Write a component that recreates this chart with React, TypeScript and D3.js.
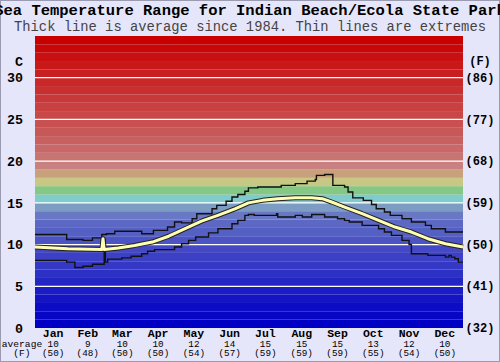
import React from "react";
import * as d3 from "d3";

const months = ["Jan", "Feb", "Mar", "Apr", "May", "Jun", "Jul", "Aug", "Sep", "Oct", "Nov", "Dec"];
const monthDays = [31, 28, 31, 30, 31, 30, 31, 31, 30, 31, 30, 31];
const monthAvgC = [10, 9, 10, 10, 12, 14, 15, 15, 15, 13, 12, 10];
const monthAvgF = [50, 48, 50, 50, 54, 57, 59, 59, 59, 55, 54, 50];

const cTicks = [0, 5, 10, 15, 20, 25, 30];
const fTicks = ["(32)", "(41)", "(50)", "(59)", "(68)", "(77)", "(86)"];

// [day of year, deg C]
const maxLine: [number, number][] = [
  [0, 11.2], [27, 10.6], [41, 10.5], [49, 10.8], [57, 11.2], [61, 11.3], [68, 11.6],
  [91, 11.3], [101, 11.7], [113, 12.1], [119, 12.7], [125, 12.6], [134, 13.1], [138, 13.7],
  [151, 14.3], [155, 14.7], [163, 15.2], [168, 15.7], [173, 16.0], [179, 16.4], [182, 16.8],
  [190, 16.9], [210, 17.1], [222, 17.3], [232, 17.6], [239, 17.8], [240, 18.3], [247, 18.4],
  [254, 17.1], [264, 16.9], [267, 16.3], [271, 15.6], [280, 15.3], [287, 14.8], [291, 14.3],
  [298, 13.9], [303, 13.5], [313, 13.1], [321, 12.7], [333, 12.3], [338, 11.9], [350, 11.5],
  [365, 11.5],
];

const minLine: [number, number][] = [
  [0, 8.1], [27, 7.9], [34, 7.25], [41, 7.4], [49, 7.65], [59, 10.6], [60, 7.9], [62, 8.25],
  [74, 8.4], [82, 8.6], [91, 8.9], [96, 9.2], [102, 9.4], [119, 9.7], [125, 10.1], [131, 10.5],
  [137, 10.9], [148, 11.4], [156, 11.9], [168, 12.5], [173, 12.9], [179, 13.5], [182, 13.6],
  [187, 13.5], [206, 13.7], [207, 13.3], [222, 13.5], [228, 13.3], [236, 13.6], [247, 13.3],
  [258, 13.1], [264, 12.9], [268, 12.7], [279, 12.3], [293, 11.9], [298, 11.5], [304, 11.1],
  [313, 10.5], [319, 10.0], [321, 8.9], [335, 8.7], [350, 8.5], [353, 8.7], [355, 8.5],
  [358, 8.3], [361, 7.9], [365, 7.9],
];

const avgLine: [number, number][] = [
  [0, 9.7], [28, 9.5], [57, 9.4], [58, 10.7], [59, 9.4], [71, 9.6], [85, 9.9], [100, 10.3],
  [114, 11.0], [128, 11.9], [142, 12.8], [156, 13.5], [171, 14.3], [182, 15.0], [194, 15.3],
  [207, 15.5], [222, 15.6], [236, 15.6], [245, 15.5], [253, 15.1], [264, 14.5], [279, 13.7],
  [293, 12.9], [307, 12.1], [321, 11.5], [335, 10.7], [350, 10.1], [365, 9.7],
];

// one colour per 1 deg C band, from 0 upwards
const bandColors = [
  "#0000c4", "#0606c4", "#0c0cc4", "#1414c4", "#1c1cc4", "#2426c4", "#2c30c4", "#3438c4",
  "#3c40c4", "#4448c4", "#4c54c4", "#5460c4", "#5c68c4", "#6878c4", "#7c9cc4", "#80cccc",
  "#84c884", "#c8c884", "#c8a07c", "#c88080", "#c87470", "#c86868", "#c86060", "#c85858",
  "#c85050", "#c84848", "#c84040", "#c83838", "#c83030", "#c82828", "#c82020", "#c81818",
  "#c81010", "#c80808", "#c80000",
];

export default function App() {
  const width = 500;
  const height = 362;
  const left = 35;
  const right = 463;
  const top = 36;
  const bottom = 328;
  const mono = "'Liberation Mono', 'Courier New', monospace";

  const x = d3.scaleLinear().domain([0, 365]).range([left, right]);
  const y = d3.scaleLinear().domain([0, 35]).range([bottom, top]);

  const starts = d3.cumsum([0, ...monthDays]);

  const stepLine = d3.line<[number, number]>()
    .x((d) => x(d[0]))
    .y((d) => y(d[1]))
    .curve(d3.curveStepAfter);
  const smoothLine = d3.line<[number, number]>()
    .x((d) => x(d[0]))
    .y((d) => y(d[1]));

  return (
    <svg width={width} height={height} style={{ position: "absolute", left: 0, top: 0 }}>
      <rect x={0} y={0} width={width} height={height} fill="#e6e6fa" />
      <rect x={0.5} y={0.5} width={width - 1} height={height - 1} fill="none" stroke="#9a9ab0" />
      <text x={250} y={15} textAnchor="middle" fontFamily={mono} fontWeight="bold" fontSize={15.5}>
        Sea Temperature Range for Indian Beach/Ecola State Park
      </text>
      <text x={250} y={30.5} textAnchor="middle" fontFamily={mono} fontSize={13.8} fill="#444">
        Thick line is average since 1984. Thin lines are extremes
      </text>

      {bandColors.map((c, i) => (
        <rect key={i} x={left} y={y(i + 1)} width={right - left} height={y(i) - y(i + 1)} fill={c} />
      ))}

      {starts.slice(1, 12).map((d, i) => (
        <line key={i} x1={x(d)} x2={x(d)} y1={top} y2={bottom} stroke="#6a6a6a" strokeWidth={1} />
      ))}
      {cTicks.slice(1).map((t) => (
        <line key={t} x1={left} x2={right} y1={y(t)} y2={y(t)} stroke="#fff" strokeWidth={1.3} />
      ))}

      <path d={stepLine(maxLine) ?? ""} fill="none" stroke="#111" strokeWidth={1.4} />
      <path d={stepLine(minLine) ?? ""} fill="none" stroke="#111" strokeWidth={1.4} />
      <path d={smoothLine(avgLine) ?? ""} fill="none" stroke="#222" strokeWidth={5} strokeLinejoin="round" />
      <path d={smoothLine(avgLine) ?? ""} fill="none" stroke="#ffffb4" strokeWidth={3} strokeLinejoin="round" />

      <g fontFamily={mono} fontWeight="bold" fontSize={13.3}>
        <text x={23} y={y(32)} dy="0.35em" textAnchor="end">C</text>
        {cTicks.map((t) => (
          <text key={t} x={23} y={y(t)} dy="0.35em" textAnchor="end">{t}</text>
        ))}
      </g>
      <g fontFamily={mono} fontWeight="bold" fontSize={12}>
        <text x={480} y={y(32)} dy="0.35em" textAnchor="middle">(F)</text>
        {cTicks.map((t, i) => (
          <text key={t} x={480} y={y(t)} dy="0.35em" textAnchor="middle">{fTicks[i]}</text>
        ))}
      </g>

      <g fontFamily={mono} textAnchor="middle">
        <text x={22} y={343.5} dy="0.35em" fontSize={9.6}>average</text>
        <text x={22} y={353} dy="0.35em" fontSize={9.6}>(F)</text>
        {months.map((m, i) => {
          const cx = x(starts[i] + monthDays[i] / 2);
          return (
            <g key={m}>
              <text x={cx} y={333} dy="0.35em" fontWeight="bold" fontSize={11.5}>{m}</text>
              <text x={cx} y={343.5} dy="0.35em" fontSize={9.3}>{monthAvgC[i]}</text>
              <text x={cx} y={353} dy="0.35em" fontSize={9.3}>({monthAvgF[i]})</text>
            </g>
          );
        })}
      </g>
    </svg>
  );
}
